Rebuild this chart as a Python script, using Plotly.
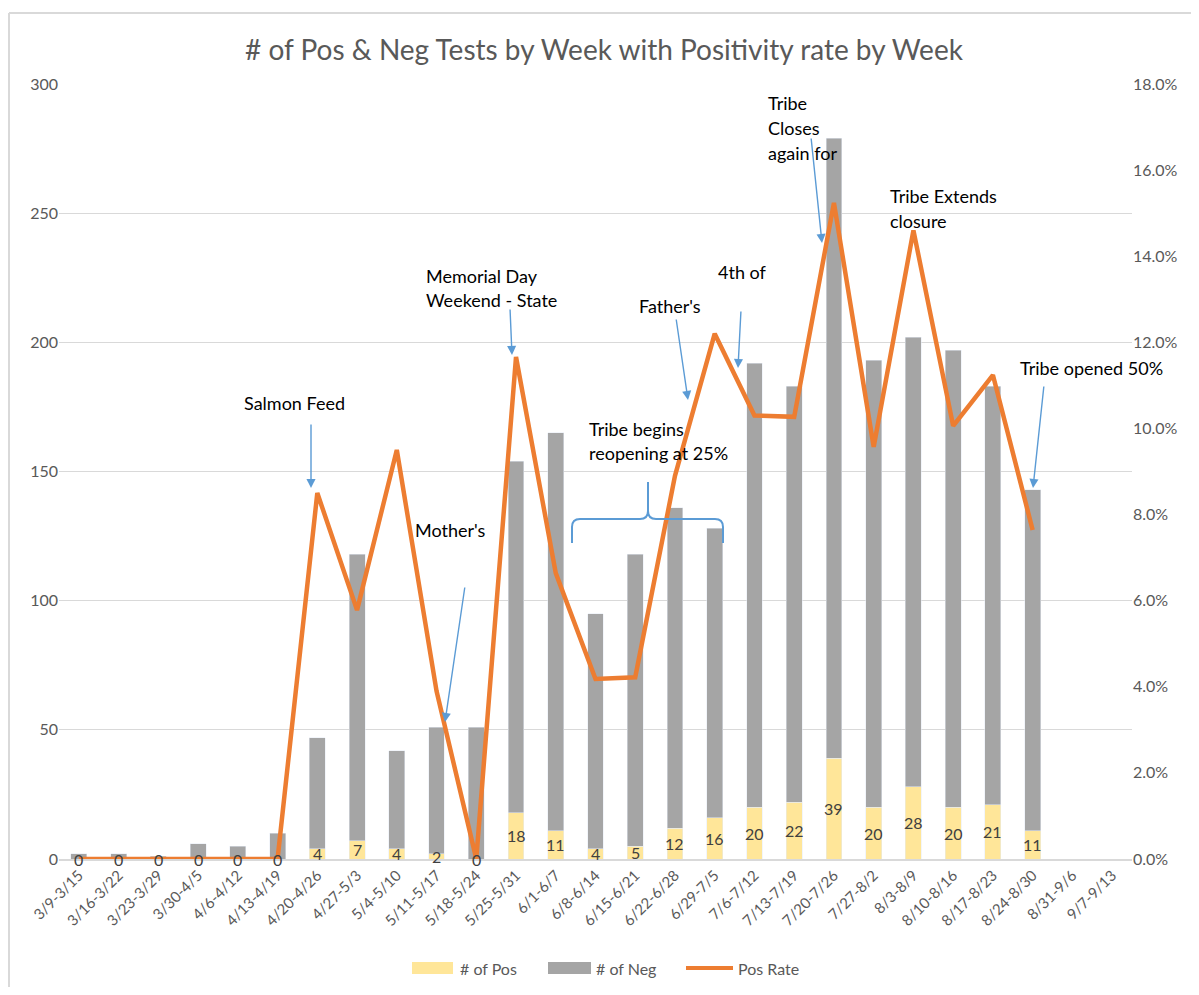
import plotly.graph_objects as go

weeks = ["3/9-3/15", "3/16-3/22", "3/23-3/29", "3/30-4/5", "4/6-4/12", "4/13-4/19",
         "4/20-4/26", "4/27-5/3", "5/4-5/10", "5/11-5/17", "5/18-5/24", "5/25-5/31",
         "6/1-6/7", "6/8-6/14", "6/15-6/21", "6/22-6/28", "6/29-7/5", "7/6-7/12",
         "7/13-7/19", "7/20-7/26", "7/27-8/2", "8/3-8/9", "8/10-8/16", "8/17-8/23",
         "8/24-8/30", "8/31-9/6", "9/7-9/13"]
pos = [0, 0, 0, 0, 0, 0, 4, 7, 4, 2, 0, 18, 11, 4, 5, 12, 16, 20, 22, 39, 20, 28, 20, 21, 11, None, None]
neg = [2, 2, 1, 6, 5, 10, 43, 111, 38, 49, 51, 136, 154, 91, 113, 124, 112, 172, 161, 240, 173, 174, 177, 162, 132, None, None]
pos_rate = [0.0, 0.0, 0.0, 0.0, 0.0, 0.0, 0.085, 0.0578, 0.095, 0.039, 0.0, 0.1166,
            0.0664, 0.0418, 0.0422, 0.089, 0.122, 0.103, 0.1027, 0.1524, 0.0957, 0.146,
            0.1006, 0.1124, 0.0764, None, None]
series_names = ["# of Pos", "# of Neg", "Pos Rate"]
series_colors = ["#FFE699", "#A5A5A5", "#ED7D31"]

FONT = "Lato, 'Open Sans', sans-serif"
GREY_TXT = "#595959"
BLUE = "#5B9BD5"

OFF = 8  # page body margin
W, H = 1199 - 2 * OFF, 995 - 2 * OFF
# plot area in page pixels
L, R, T, B = 59, 1132, 84, 859


def px(x):
    return (x - L) / (R - L)


def py(y):
    return (B - y) / (B - T)


fig = go.Figure()
fig.add_trace(go.Bar(x=weeks, y=pos, name=series_names[0], marker_color=series_colors[0], yaxis="y"))
fig.add_trace(go.Bar(x=weeks, y=neg, name=series_names[1], marker_color=series_colors[1], yaxis="y"))
fig.add_trace(go.Scatter(x=weeks, y=pos_rate, name=series_names[2], mode="lines",
                         line=dict(color=series_colors[2], width=4.5), yaxis="y2"))

annotations = []
for w, p in zip(weeks, pos):
    if p is None:
        continue
    annotations.append(dict(x=w, y=p / 2, xref="x", yref="y", text=str(p), showarrow=False,
                            font=dict(family=FONT, size=16, color="#404040"),
                            xanchor="center", yanchor="middle"))


def label(lines, x, y_first, step=25, size=18, color="#000000"):
    for i, t in enumerate(lines):
        annotations.append(dict(x=px(x), y=py(y_first + i * step), xref="paper", yref="paper",
                                text=t, showarrow=False, xanchor="left", yanchor="middle",
                                font=dict(family=FONT, size=size, color=color)))


def arrow(x0, y0, x1, y1):
    annotations.append(dict(x=px(x1), y=py(y1), xref="paper", yref="paper", text="",
                            showarrow=True, ax=x0 - x1, ay=y0 - y1, axref="pixel", ayref="pixel",
                            arrowhead=2, arrowsize=1.3, arrowwidth=1.4, arrowcolor=BLUE))


label(["Salmon Feed"], 242, 403)
arrow(311, 423, 311, 488)
label(["Memorial Day", "Weekend - State"], 424, 276, 24)
arrow(510, 308, 512, 355)
label(["Mother's"], 413, 530)
arrow(465, 586, 445, 722)
label(["Tribe begins", "reopening at 25%"], 587, 429, 24)
label(["Father's"], 637, 306)
arrow(676, 318, 688, 400)
label(["4th of"], 716, 272)
arrow(741, 310, 738, 368)
label(["Tribe", "Closes", "again for"], 766, 103, 25)
arrow(811, 137, 822, 243)
label(["Tribe Extends", "closure"], 888, 196, 25)
label(["Tribe opened 50%"], 1018, 368)
arrow(1044, 385, 1033, 488)


def P(x, y):
    return f"{px(x):.5f},{py(y):.5f}"


brace = ("M " + P(572, 543) + " L " + P(572, 527) + " Q " + P(572, 519) + " " + P(580, 519)
         + " L " + P(640, 519) + " Q " + P(648, 519) + " " + P(648, 511) + " L " + P(648, 482)
         + " M " + P(648, 511) + " Q " + P(648, 519) + " " + P(656, 519)
         + " L " + P(715, 519) + " Q " + P(723, 519) + " " + P(723, 527) + " L " + P(723, 543))

shapes = [
    dict(type="path", path=brace, xref="paper", yref="paper",
         line=dict(color=BLUE, width=2)),
    # outer chart frame (left and top edges visible inside the page)
    dict(type="line", xref="paper", yref="paper", x0=px(9), x1=px(9), y0=py(992), y1=py(13),
         line=dict(color="#D9D9D9", width=2)),
    dict(type="line", xref="paper", yref="paper", x0=px(9), x1=px(1191), y0=py(13), y1=py(13),
         line=dict(color="#D9D9D9", width=2)),
]

# Excel-style legend (wide swatches)
LEG_Y = 968
shapes.append(dict(type="rect", xref="paper", yref="paper", x0=px(412), x1=px(453),
                   y0=py(LEG_Y + 6), y1=py(LEG_Y - 6), line=dict(width=0),
                   fillcolor=series_colors[0]))
shapes.append(dict(type="rect", xref="paper", yref="paper", x0=px(548), x1=px(591),
                   y0=py(LEG_Y + 6), y1=py(LEG_Y - 6), line=dict(width=0),
                   fillcolor=series_colors[1]))
shapes.append(dict(type="line", xref="paper", yref="paper", x0=px(686), x1=px(733),
                   y0=py(LEG_Y), y1=py(LEG_Y), line=dict(color=series_colors[2], width=4)))
label([series_names[0]], 458, LEG_Y, size=16, color=GREY_TXT)
label([series_names[1]], 594, LEG_Y, size=16, color=GREY_TXT)
label([series_names[2]], 736, LEG_Y, size=16, color=GREY_TXT)

fig.update_layout(
    width=W, height=H,
    margin=dict(l=L - OFF, r=W - (R - OFF), t=T - OFF, b=H - (B - OFF), autoexpand=False),
    barmode="stack", bargap=0.6, showlegend=False,
    plot_bgcolor="white", paper_bgcolor="white",
    font=dict(family=FONT, color=GREY_TXT),
    title=dict(text="# of Pos & Neg Tests by Week with Positivity rate by Week",
               x=px(604), xref="paper", xanchor="center", y=1 - (50 - OFF) / H, yanchor="middle",
               font=dict(family=FONT, size=28, color=GREY_TXT)),
    xaxis=dict(type="category", tickangle=-45, tickfont=dict(size=15, color=GREY_TXT),
               showline=True, linecolor="#D9D9D9", linewidth=1.5, ticks="", showgrid=False),
    yaxis=dict(range=[0, 300], dtick=50, showgrid=True, gridcolor="#D9D9D9", gridwidth=1.2,
               zeroline=False, tickfont=dict(size=16, color=GREY_TXT), ticks=""),
    yaxis2=dict(range=[0, 0.18], dtick=0.02, tickformat=".1%", overlaying="y", side="right",
                showgrid=False, zeroline=False, tickfont=dict(size=16, color=GREY_TXT), ticks=""),
    annotations=annotations,
    shapes=shapes,
)

fig.write_html("out.html")
